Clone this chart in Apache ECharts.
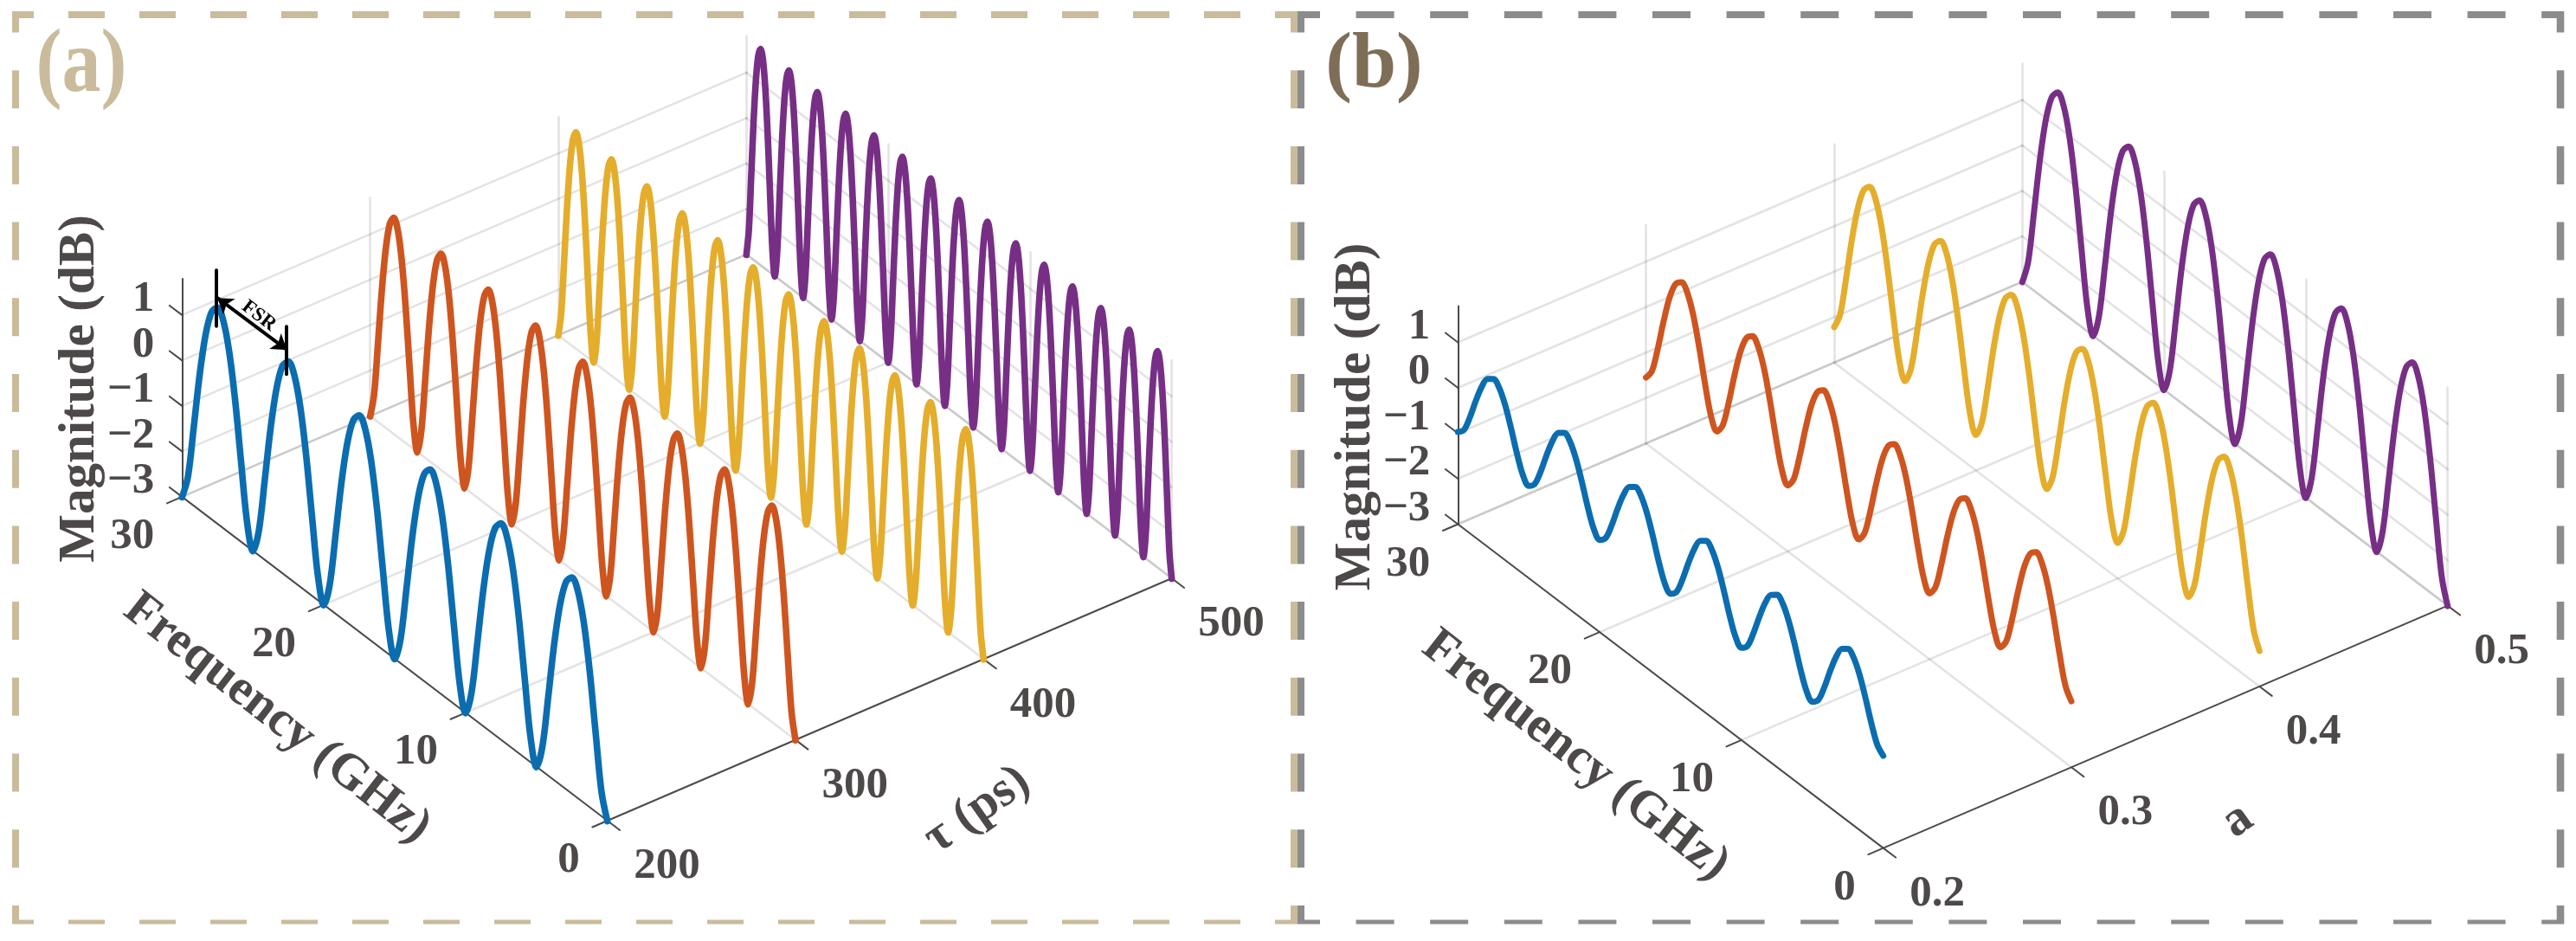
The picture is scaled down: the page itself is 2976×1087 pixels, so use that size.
<!DOCTYPE html>
<html>
<head>
<meta charset="utf-8">
<style>html,body{margin:0;padding:0;background:#fff}#c{width:2976px;height:1087px}</style>
<script src="https://cdn.jsdelivr.net/npm/echarts@6/dist/echarts.min.js"></script>
</head>
<body>
<div id="c"></div>
<script>
// ---- tick labels ----
const freqTicks = [0, 10, 20, 30];
const magTicks = [-3, -2, -1, 0, 1];
const delayTicks = [200, 300, 400, 500];
const alphaTicks = [0.2, 0.3, 0.4, 0.5];

// ---- panel (a): magnitude (dB) read along 0..30 GHz, one list per delay ----
const magTau200 = [
-3.01,-2.46,-1.25,0,.97,1.56,1.76,1.56,.97,0,-1.25,-2.46,
-3.01,-2.46,-1.25,0,.97,1.56,1.76,1.56,.97,0,-1.25,-2.46,
-3.01,-2.46,-1.25,0,.97,1.56,1.76,1.56,.97,0,-1.25,-2.46,
-3.01,-2.46,-1.25,0,.97,1.56,1.76,1.56,.97,0,-1.25,-2.46,
-3.01,-2.46,-1.25,0,.97,1.56,1.76,1.56,.97,0,-1.25,-2.46,
-3.01,-2.46,-1.25,0,.97,1.56,1.76,1.56,.97,0,-1.25,-2.46,-3.01];
const magTau300 = [
-3.01,-2.46,-1.25,0,.97,1.56,1.76,1.56,.97,0,-1.25,-2.46,
-3.01,-2.46,-1.25,0,.97,1.56,1.76,1.56,.97,0,-1.25,-2.46,
-3.01,-2.46,-1.25,0,.97,1.56,1.76,1.56,.97,0,-1.25,-2.46,
-3.01,-2.46,-1.25,0,.97,1.56,1.76,1.56,.97,0,-1.25,-2.46,
-3.01,-2.46,-1.25,0,.97,1.56,1.76,1.56,.97,0,-1.25,-2.46,
-3.01,-2.46,-1.25,0,.97,1.56,1.76,1.56,.97,0,-1.25,-2.46,
-3.01,-2.46,-1.25,0,.97,1.56,1.76,1.56,.97,0,-1.25,-2.46,
-3.01,-2.46,-1.25,0,.97,1.56,1.76,1.56,.97,0,-1.25,-2.46,
-3.01,-2.46,-1.25,0,.97,1.56,1.76,1.56,.97,0,-1.25,-2.46,-3.01];
const magTau400 = [
-3.01,-2.46,-1.25,0,.97,1.56,1.76,1.56,.97,0,-1.25,-2.46,
-3.01,-2.46,-1.25,0,.97,1.56,1.76,1.56,.97,0,-1.25,-2.46,
-3.01,-2.46,-1.25,0,.97,1.56,1.76,1.56,.97,0,-1.25,-2.46,
-3.01,-2.46,-1.25,0,.97,1.56,1.76,1.56,.97,0,-1.25,-2.46,
-3.01,-2.46,-1.25,0,.97,1.56,1.76,1.56,.97,0,-1.25,-2.46,
-3.01,-2.46,-1.25,0,.97,1.56,1.76,1.56,.97,0,-1.25,-2.46,
-3.01,-2.46,-1.25,0,.97,1.56,1.76,1.56,.97,0,-1.25,-2.46,
-3.01,-2.46,-1.25,0,.97,1.56,1.76,1.56,.97,0,-1.25,-2.46,
-3.01,-2.46,-1.25,0,.97,1.56,1.76,1.56,.97,0,-1.25,-2.46,
-3.01,-2.46,-1.25,0,.97,1.56,1.76,1.56,.97,0,-1.25,-2.46,
-3.01,-2.46,-1.25,0,.97,1.56,1.76,1.56,.97,0,-1.25,-2.46,
-3.01,-2.46,-1.25,0,.97,1.56,1.76,1.56,.97,0,-1.25,-2.46,-3.01];
const magTau500 = [
-3.01,-2.46,-1.25,0,.97,1.56,1.76,1.56,.97,0,-1.25,-2.46,
-3.01,-2.46,-1.25,0,.97,1.56,1.76,1.56,.97,0,-1.25,-2.46,
-3.01,-2.46,-1.25,0,.97,1.56,1.76,1.56,.97,0,-1.25,-2.46,
-3.01,-2.46,-1.25,0,.97,1.56,1.76,1.56,.97,0,-1.25,-2.46,
-3.01,-2.46,-1.25,0,.97,1.56,1.76,1.56,.97,0,-1.25,-2.46,
-3.01,-2.46,-1.25,0,.97,1.56,1.76,1.56,.97,0,-1.25,-2.46,
-3.01,-2.46,-1.25,0,.97,1.56,1.76,1.56,.97,0,-1.25,-2.46,
-3.01,-2.46,-1.25,0,.97,1.56,1.76,1.56,.97,0,-1.25,-2.46,
-3.01,-2.46,-1.25,0,.97,1.56,1.76,1.56,.97,0,-1.25,-2.46,
-3.01,-2.46,-1.25,0,.97,1.56,1.76,1.56,.97,0,-1.25,-2.46,
-3.01,-2.46,-1.25,0,.97,1.56,1.76,1.56,.97,0,-1.25,-2.46,
-3.01,-2.46,-1.25,0,.97,1.56,1.76,1.56,.97,0,-1.25,-2.46,
-3.01,-2.46,-1.25,0,.97,1.56,1.76,1.56,.97,0,-1.25,-2.46,
-3.01,-2.46,-1.25,0,.97,1.56,1.76,1.56,.97,0,-1.25,-2.46,
-3.01,-2.46,-1.25,0,.97,1.56,1.76,1.56,.97,0,-1.25,-2.46,-3.01];

// ---- panel (b): magnitude (dB) read along 0..30 GHz, one list per a ----
const magA02 = [
-.97,-.83,-.46,0,.41,.69,.79,.69,.41,0,-.46,-.83,
-.97,-.83,-.46,0,.41,.69,.79,.69,.41,0,-.46,-.83,
-.97,-.83,-.46,0,.41,.69,.79,.69,.41,0,-.46,-.83,
-.97,-.83,-.46,0,.41,.69,.79,.69,.41,0,-.46,-.83,
-.97,-.83,-.46,0,.41,.69,.79,.69,.41,0,-.46,-.83,
-.97,-.83,-.46,0,.41,.69,.79,.69,.41,0,-.46,-.83,-.97];
const magA03 = [
-1.55,-1.31,-.71,0,.61,1,1.14,1,.61,0,-.71,-1.31,
-1.55,-1.31,-.71,0,.61,1,1.14,1,.61,0,-.71,-1.31,
-1.55,-1.31,-.71,0,.61,1,1.14,1,.61,0,-.71,-1.31,
-1.55,-1.31,-.71,0,.61,1,1.14,1,.61,0,-.71,-1.31,
-1.55,-1.31,-.71,0,.61,1,1.14,1,.61,0,-.71,-1.31,
-1.55,-1.31,-.71,0,.61,1,1.14,1,.61,0,-.71,-1.31,-1.55];
const magA04 = [
-2.22,-1.85,-.97,0,.79,1.29,1.46,1.29,.79,0,-.97,-1.85,
-2.22,-1.85,-.97,0,.79,1.29,1.46,1.29,.79,0,-.97,-1.85,
-2.22,-1.85,-.97,0,.79,1.29,1.46,1.29,.79,0,-.97,-1.85,
-2.22,-1.85,-.97,0,.79,1.29,1.46,1.29,.79,0,-.97,-1.85,
-2.22,-1.85,-.97,0,.79,1.29,1.46,1.29,.79,0,-.97,-1.85,
-2.22,-1.85,-.97,0,.79,1.29,1.46,1.29,.79,0,-.97,-1.85,-2.22];
const magA05 = [
-3.01,-2.46,-1.25,0,.97,1.56,1.76,1.56,.97,0,-1.25,-2.46,
-3.01,-2.46,-1.25,0,.97,1.56,1.76,1.56,.97,0,-1.25,-2.46,
-3.01,-2.46,-1.25,0,.97,1.56,1.76,1.56,.97,0,-1.25,-2.46,
-3.01,-2.46,-1.25,0,.97,1.56,1.76,1.56,.97,0,-1.25,-2.46,
-3.01,-2.46,-1.25,0,.97,1.56,1.76,1.56,.97,0,-1.25,-2.46,
-3.01,-2.46,-1.25,0,.97,1.56,1.76,1.56,.97,0,-1.25,-2.46,-3.01];

// ---- styling / layout ----
const COLORS = ['#0B6DB0', '#CE551F', '#E4AD2B', '#772F86'];
const INK = '#4D4948';
const GRID = 'rgba(38,38,38,0.13)';
const SERIF = '"Liberation Serif"';
const FREQ_MAX = 30, MAG_MIN = -3, MAG_TOP = 1.8;

// Oblique view of the box: F=0 / first-axis-minimum corner on the floor, then unit vectors
function makePanel(ox, oy, ticks) {
  return {ox, oy, ticks, fx: -16.38, fy: -12.47, ux: 652, uy: -280, zy: 52.5};
}
const panelA = makePanel(701.7, 948, delayTicks);
const panelB = makePanel(2175.7, 979.6, alphaTicks);

function project(p, v, f, m) {
  const lo = p.ticks[0], hi = p.ticks[p.ticks.length - 1];
  const u = (v - lo) / (hi - lo);
  return [p.ox + p.fx * f + p.ux * u, p.oy + p.fy * f + p.uy * u - p.zy * (m - MAG_MIN)];
}

function gridSegments(p) {
  const lo = p.ticks[0], hi = p.ticks[p.ticks.length - 1];
  const segs = [];
  const seg = (a, b) => segs.push({coords: [a, b]});
  magTicks.forEach(m => {
    seg(project(p, lo, FREQ_MAX, m), project(p, hi, FREQ_MAX, m));
    seg(project(p, hi, FREQ_MAX, m), project(p, hi, 0, m));
  });
  p.ticks.forEach(v => {
    if (v !== lo) seg(project(p, v, 0, MAG_MIN), project(p, v, FREQ_MAX, MAG_MIN));
    if (v !== lo) seg(project(p, v, FREQ_MAX, MAG_MIN), project(p, v, FREQ_MAX, MAG_TOP));
  });
  freqTicks.forEach(f => {
    if (f !== 0) seg(project(p, lo, f, MAG_MIN), project(p, hi, f, MAG_MIN));
    if (f !== FREQ_MAX) seg(project(p, hi, f, MAG_MIN), project(p, hi, f, MAG_TOP));
  });
  return segs;
}

function axisSegments(p) {
  const lo = p.ticks[0], hi = p.ticks[p.ticks.length - 1], du = (hi - lo) * 8 / 300;
  const segs = [];
  const seg = (a, b) => segs.push({coords: [a, b]});
  seg(project(p, lo, FREQ_MAX, MAG_MIN), project(p, lo, FREQ_MAX, MAG_TOP));
  seg(project(p, lo, 0, MAG_MIN), project(p, lo, FREQ_MAX, MAG_MIN));
  seg(project(p, lo, 0, MAG_MIN), project(p, hi, 0, MAG_MIN));
  magTicks.forEach(m => seg(project(p, lo, FREQ_MAX, m), project(p, lo, FREQ_MAX + 0.88, m)));
  freqTicks.forEach(f => seg(project(p, lo, f, MAG_MIN), project(p, lo - du, f, MAG_MIN)));
  p.ticks.forEach(v => seg(project(p, v, 0, MAG_MIN), project(p, v, -0.88, MAG_MIN)));
  return segs;
}

function tickTexts(p, fmt) {
  const lo = p.ticks[0];
  const out = [];
  magTicks.forEach(m => {
    const q = project(p, lo, FREQ_MAX, m);
    out.push({x: q[0] - 32, y: q[1] - 18, t: m < 0 ? '\u2212' + (-m) : String(m), align: 'right', size: 51});
  });
  freqTicks.forEach(f => {
    const q = project(p, lo, f, MAG_MIN);
    out.push({x: q[0] - 32, y: q[1] + 46, t: String(f), align: 'right', size: 51});
  });
  p.ticks.forEach(v => {
    const q = project(p, v, 0, MAG_MIN);
    out.push({x: q[0] + 30.5, y: q[1] + 53, t: fmt(v), align: 'left', size: 51});
  });
  return out;
}

const labels = [].concat(
  tickTexts(panelA, v => String(v)),
  tickTexts(panelB, v => v.toFixed(1)),
  [
    {x: 93, y: 449, t: 'Magnitude (dB)', size: 59, rot: 90},
    {x: 320, y: 830, t: 'Frequency (GHz)', size: 58, rot: -38},
    {x: 1129, y: 936, t: '\u03C4 (ps)', size: 58, rot: 35},
    {x: 94, y: 78, t: '(a)', size: 100, color: '#C9BB9C', sx: 0.9, sy: 1.04},
    {x: 1567, y: 481.5, t: 'Magnitude (dB)', size: 59, rot: 90},
    {x: 1820, y: 873, t: 'Frequency (GHz)', size: 58, rot: -38},
    {x: 2585, y: 948, t: 'a', size: 58, rot: 35},
    {x: 1587.5, y: 76, t: '(b)', size: 92, color: '#7E6D57'},
    {x: 299, y: 365, t: 'FSR', size: 23, rot: -37.7, color: '#000'}
  ]
);

function curve(name, p, v, mags, color, z, w) {
  const n = mags.length;
  return {
    name, type: 'line', z, showSymbol: false, symbol: 'none', smooth: 0.33, clip: false, silent: true,
    lineStyle: {color, width: w, cap: 'round', join: 'round'},
    data: mags.map((m, i) => project(p, v, FREQ_MAX * i / (n - 1), m))
  };
}
function segLines(data, color, width, z) {
  return {type: 'lines', coordinateSystem: 'cartesian2d', z, silent: true, polyline: false,
    lineStyle: {color, width, opacity: 1, cap: 'round'}, effect: {show: false}, data};
}

const series = [
  segLines(gridSegments(panelA).concat(gridSegments(panelB)), GRID, 2.6, 1),
  segLines(axisSegments(panelA).concat(axisSegments(panelB)), INK, 2, 2),
  curve('200 ps', panelA, 200, magTau200, COLORS[0], 9, 7.6),
  curve('300 ps', panelA, 300, magTau300, COLORS[1], 8, 7.6),
  curve('400 ps', panelA, 400, magTau400, COLORS[2], 7, 7.6),
  curve('500 ps', panelA, 500, magTau500, COLORS[3], 6, 7.6),
  curve('a 0.2', panelB, 0.2, magA02, COLORS[0], 9, 7),
  curve('a 0.3', panelB, 0.3, magA03, COLORS[1], 8, 7),
  curve('a 0.4', panelB, 0.4, magA04, COLORS[2], 7, 7),
  curve('a 0.5', panelB, 0.5, magA05, COLORS[3], 6, 7),
  // FSR markers and arrow, placed at the two first peaks of the 200 ps curve
  segLines([
    {coords: [project(panelA, 200, 27.62, 1.32), project(panelA, 200, 27.62, 2.55)]},
    {coords: [project(panelA, 200, 22.62, 1.45), project(panelA, 200, 22.62, 2.5)]}
  ], '#000', 4, 10),
  {type: 'lines', coordinateSystem: 'cartesian2d', z: 10, silent: true,
    symbol: ['arrow', 'arrow'], symbolSize: 17,
    lineStyle: {color: '#000', width: 4, opacity: 1},
    data: [{coords: [project(panelA, 200, 27.5, 1.97), project(panelA, 200, 22.6, 1.99)]}]},
  {type: 'custom', coordinateSystem: 'cartesian2d', z: 12, silent: true, clip: false,
    data: labels.map(l => [l.x, l.y]),
    renderItem(params, api) {
      const l = labels[params.dataIndex];
      const c = api.coord([api.value(0), api.value(1)]);
      return {type: 'text', x: c[0], y: c[1], rotation: (l.rot || 0) * Math.PI / 180,
        scaleX: l.sx || 1, scaleY: l.sy || 1,
        style: {text: l.t, x: 0, y: 0, fill: l.color || INK,
          font: 'bold ' + l.size + 'px ' + SERIF,
          textAlign: l.align || 'center', textVerticalAlign: 'middle'}};
    }}
];

// ---- dashed panel frames ----
function frameLine(x1, y1, x2, y2, color, lw, dash, offset) {
  return {type: 'line', silent: true, z: 0,
    shape: {x1, y1, x2, y2},
    style: {stroke: color, lineWidth: lw, lineDash: dash, lineDashOffset: offset, lineCap: 'butt'}};
}
const TAN = '#C9BB9C', GRAY = '#8C8C8C';
const frames = [
  frameLine(14, 17, 1500, 17, TAN, 8, [42, 40], 17),
  frameLine(14, 1065, 1500, 1065, TAN, 5, [42, 40], 17),
  frameLine(18, 13, 18, 1067, TAN, 8, [44, 43.7], 19.5),
  frameLine(1495, 13, 1495, 1067, TAN, 8, [44, 43.7], 19.5),
  frameLine(1499, 17, 2962, 17, GRAY, 8, [44, 41.6], 18),
  frameLine(1499, 1065, 2962, 1065, GRAY, 5, [44, 41.6], 18),
  frameLine(1503, 13, 1503, 1067, GRAY, 8, [44, 43.7], 19.5),
  frameLine(2958, 13, 2958, 1067, GRAY, 8.6, [44, 43.7], 19.5)
];

const chart = echarts.init(document.getElementById('c'), null, {renderer: 'canvas', width: 2976, height: 1087});
chart.setOption({
  animation: false,
  backgroundColor: '#fff',
  grid: {left: 0, right: 0, top: 0, bottom: 0},
  xAxis: {type: 'value', min: 0, max: 2976, show: false},
  yAxis: {type: 'value', min: 0, max: 1087, inverse: true, show: false},
  graphic: {elements: frames},
  series
});
</script>
</body>
</html>
